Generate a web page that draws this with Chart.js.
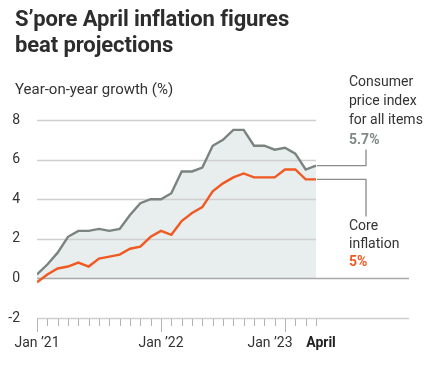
<!DOCTYPE html>
<html>
<head>
<meta charset="utf-8">
<script src="https://cdn.jsdelivr.net/npm/chart.js@4"></script>
<style>
  html,body{margin:0;padding:0;background:#fff;}
  #wrap{position:relative;width:438px;height:366px;overflow:hidden;font-family:Roboto,"Liberation Sans",sans-serif;color:#333;}
  #c{position:absolute;left:0;top:0;}
  .t{position:absolute;white-space:nowrap;}
  #title{left:15px;top:6px;font-size:22px;font-weight:700;line-height:26px;color:#2d2d2d;letter-spacing:-0.1px;}
  #sub{left:15px;top:79px;font-size:15px;line-height:20px;}
  #cpiNote{left:349px;top:72px;font-size:14px;line-height:19.2px;}
  #coreNote{left:349px;top:216px;font-size:14px;line-height:18.2px;}
  .b{font-weight:700;}
</style>
</head>
<body>
<div id="wrap">
  <canvas id="c" width="438" height="366"></canvas>
  <div class="t" id="title">S’pore April inflation figures<br>beat projections</div>
  <div class="t" id="sub">Year-on-year growth (%)</div>
  <div class="t" id="cpiNote">Consumer<br>price index<br>for all items<br><span class="b" style="color:#7f8a85">5.7%</span></div>
  <div class="t" id="coreNote">Core<br>inflation<br><span class="b" style="color:#f05a22">5%</span></div>
</div>
<script>
// Months from Jan 2021 (index 0) to Apr 2023 (index 27)
const months = ["Jan 21","Feb 21","Mar 21","Apr 21","May 21","Jun 21","Jul 21","Aug 21","Sep 21","Oct 21","Nov 21","Dec 21",
                "Jan 22","Feb 22","Mar 22","Apr 22","May 22","Jun 22","Jul 22","Aug 22","Sep 22","Oct 22","Nov 22","Dec 22",
                "Jan 23","Feb 23","Mar 23","Apr 23"];
const cpiAllItems = [0.2,0.7,1.3,2.1,2.4,2.4,2.5,2.4,2.5,3.2,3.8,4.0,
                     4.0,4.3,5.4,5.4,5.6,6.7,7.0,7.5,7.5,6.7,6.7,6.5,
                     6.6,6.3,5.5,5.7];
const coreInflation = [-0.2,0.2,0.5,0.6,0.8,0.6,1.0,1.1,1.2,1.5,1.6,2.1,
                       2.4,2.2,2.9,3.3,3.6,4.4,4.8,5.1,5.3,5.1,5.1,5.1,
                       5.5,5.5,5.0,5.0];
const xTickMonths = [0,12,24,27];
const xTickLabels = ["Jan ’21","Jan ’22","Jan ’23","April"];
const yTicks = [-2,0,2,4,6,8];

const GRAY = '#7b837f', ORANGE = '#f05a22';

const deco = {
  id:'deco',
  beforeDatasetsDraw(chart){
    const {ctx, chartArea:a} = chart;
    const xs = chart.scales.x, ys = chart.scales.y;
    const xEnd = xs.getPixelForValue(months.length-1);
    ctx.save();
    // gridlines
    yTicks.forEach(v=>{
      const y = Math.round(ys.getPixelForValue(v))+0.5;
      ctx.beginPath();
      ctx.lineWidth = 1.3;
      ctx.strokeStyle = v===0 ? '#a9a9a9' : '#cfcfcf';
      ctx.moveTo(a.left, y);
      ctx.lineTo(v<=0 ? a.right : xEnd, y);
      ctx.stroke();
    });
    ctx.restore();
  },
  afterDatasetsDraw(chart){
    const {ctx, chartArea:a} = chart;
    const xs = chart.scales.x, ys = chart.scales.y;
    const last = months.length-1;
    const xEnd = xs.getPixelForValue(last);
    ctx.save();
    // leader lines
    ctx.strokeStyle = '#8c8c8c';
    ctx.lineWidth = 1.3;
    const yc = ys.getPixelForValue(cpiAllItems[last]);
    const yk = ys.getPixelForValue(coreInflation[last]);
    const xl = xEnd + 50;
    ctx.beginPath();
    ctx.moveTo(xEnd+1, yc); ctx.lineTo(xl, yc); ctx.lineTo(xl, yc-16);
    ctx.stroke();
    ctx.beginPath();
    ctx.moveTo(xEnd+1, yk); ctx.lineTo(xl, yk); ctx.lineTo(xl, yk+37);
    ctx.stroke();
    // x tick marks
    ctx.strokeStyle = '#b3b3b3';
    ctx.lineWidth = 1;
    for(let m=0;m<months.length;m++){
      const x = Math.round(xs.getPixelForValue(m))+0.5;
      const major = m%12===0;
      ctx.beginPath();
      ctx.moveTo(x, a.bottom+1);
      ctx.lineTo(x, a.bottom + (major?14:8));
      ctx.stroke();
    }
    // x labels
    const offs = [0,0,-15,5];
    ctx.textAlign = 'center';
    ctx.textBaseline = 'alphabetic';
    xTickMonths.forEach((m,i)=>{
      const bold = i===xTickLabels.length-1;
      ctx.font = (bold?'700 ':'400 ') + '14px Roboto, "Liberation Sans", sans-serif';
      ctx.fillStyle = bold ? '#222' : '#333';
      ctx.fillText(xTickLabels[i], xs.getPixelForValue(m)+offs[i], a.bottom+29);
    });
    ctx.restore();
  }
};

new Chart(document.getElementById('c'), {
  type:'line',
  data:{
    datasets:[
      {label:'Core inflation', data:coreInflation.map((v,i)=>({x:i,y:v})), borderColor:ORANGE, borderWidth:2.4,
       pointRadius:0, tension:0, fill:false, order:0},
      {label:'Consumer price index for all items', data:cpiAllItems.map((v,i)=>({x:i,y:v})), borderColor:GRAY, borderWidth:2.4,
       pointRadius:0, tension:0, fill:'origin', backgroundColor:'rgba(220,228,229,0.65)', order:1}
    ]
  },
  options:{
    responsive:false, animation:false,
    layout:{padding:{top:120,bottom:48,right:29,left:0}},
    plugins:{legend:{display:false}, tooltip:{enabled:false}, filler:{drawTime:'beforeDatasetsDraw'}},
    scales:{
      x:{type:'linear', min:0, max:36, display:false},
      y:{min:-2, max:8, grid:{display:false}, border:{display:false},
         afterFit(s){ s.width = 37; },
         ticks:{stepSize:2, padding:9, color:'#333', font:{size:14, family:'Roboto, "Liberation Sans", sans-serif'},
                callback:v=>String(v)}}
    }
  },
  plugins:[deco]
});
</script>
</body>
</html>
